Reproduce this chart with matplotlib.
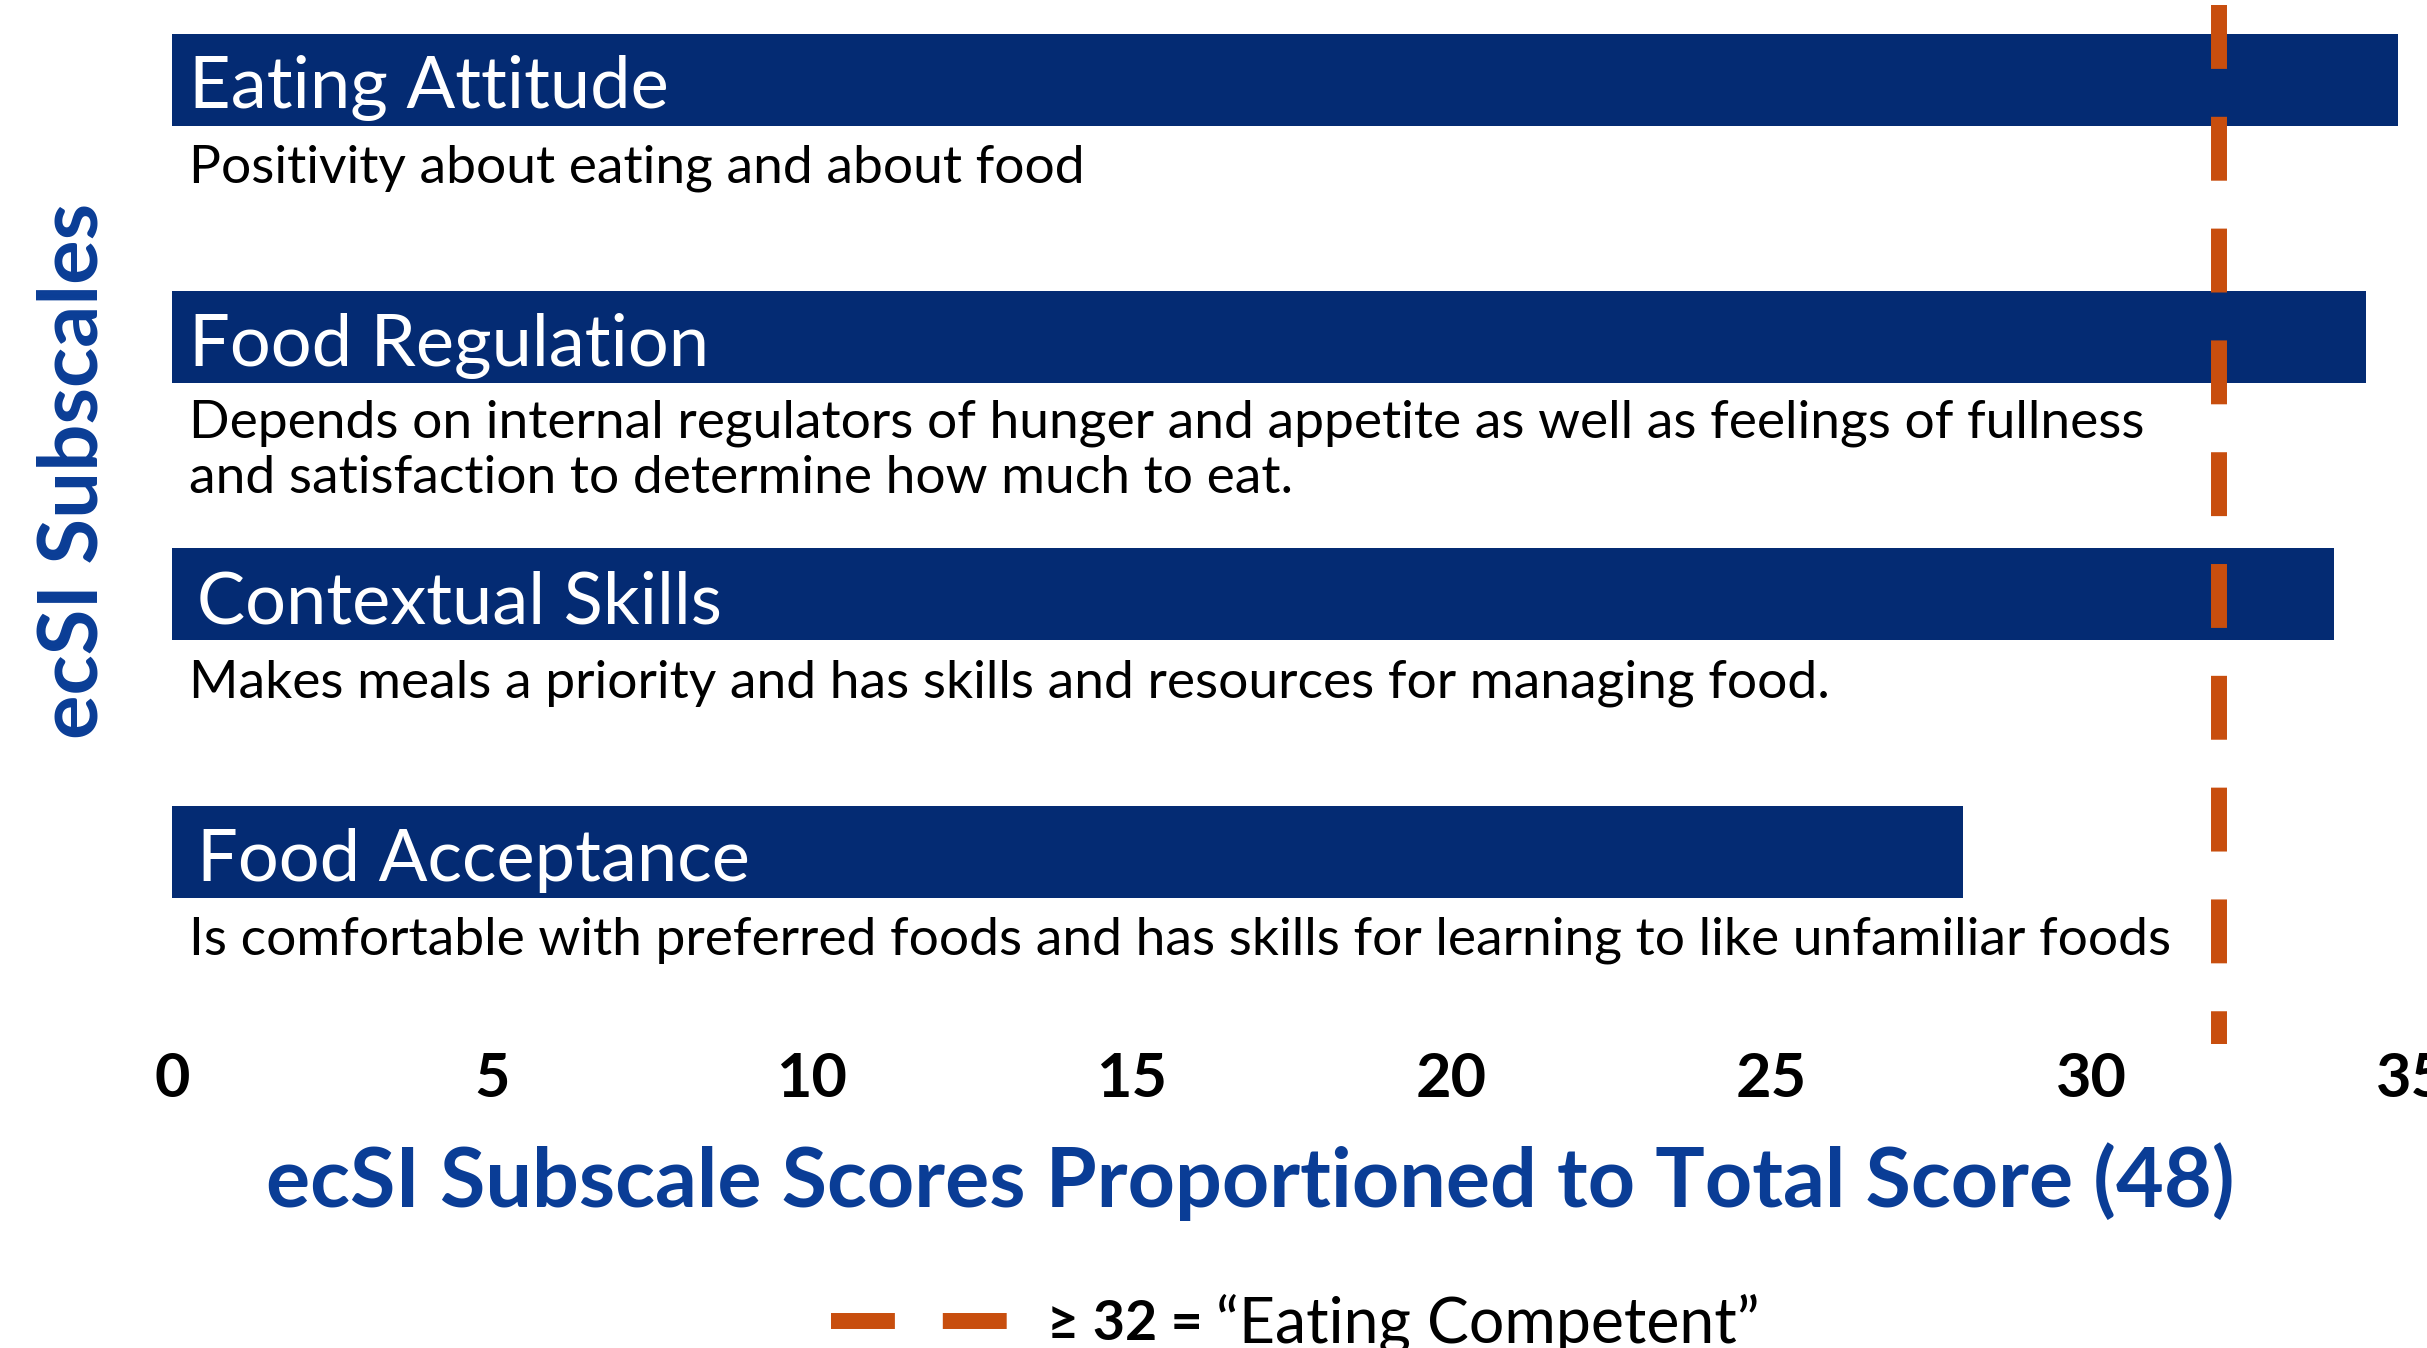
import matplotlib
matplotlib.use("Agg")
import matplotlib.pyplot as plt
from matplotlib.lines import Line2D

plt.rcParams['font.family'] = ['Lato', 'DejaVu Sans']

# data
subscales = ["Eating Attitude", "Food Regulation", "Contextual Skills", "Food Acceptance"]
scores = [34.8, 34.3, 33.8, 28.0]
descriptions = [
    "Positivity about eating and about food",
    "Depends on internal regulators of hunger and appetite as well as feelings of fullness\n"
    "and satisfaction to determine how much to eat.",
    "Makes meals a priority and has skills and resources for managing food.",
    "Is comfortable with preferred foods and has skills for learning to like unfamiliar foods",
]
threshold = 32
xticks = [0, 5, 10, 15, 20, 25, 30, 35]
legend_label = "\u2265 32 ="
legend_rest = "\u201cEating Competent\u201d"

BAR = '#042B73'
BLUE = '#0A3D96'
ORANGE = '#C84E0E'

W, H = 2427, 1348
fig = plt.figure(figsize=(W / 100, H / 100), dpi=100)
# axes placed in pixel terms of the reference
ax = fig.add_axes([172 / W, (H - 1044) / H, (2411 - 172) / W, (1044 - 5) / H])

ypos = list(range(len(subscales)))
ax.barh(ypos, scores, height=0.358, color=BAR, zorder=2)

label_dx = [0.27, 0.27, 0.39, 0.39]
line_step = 0.206  # one text line, in bar-slot units
for y, name, desc, dx in zip(ypos, subscales, descriptions, label_dx):
    ax.text(dx, y + 0.112, name, color='white', fontsize=52,
            va='baseline', ha='left', zorder=3)
    # baseline alignment goes to the last line of a multi-line text
    nextra = desc.count('\n')
    ax.text(0.27, y + 0.40 + nextra * line_step, desc, color='black', fontsize=38.4,
            va='baseline', ha='left', linespacing=1.2, zorder=3)

# threshold line, dashes start from the top
ax.plot([threshold, threshold], [1, 0], transform=ax.get_xaxis_transform(),
        color=ORANGE, lw=11.5, ls=(0, (4, 3)), dash_capstyle='butt',
        solid_capstyle='butt', clip_on=False, zorder=4)

ax.set_xlim(0, 35)
ax.set_ylim(3.747, -0.29)
ax.set_xticks(xticks)
ax.set_yticks([])
ax.tick_params(axis='x', length=0, pad=5, labelsize=44)
for lbl in ax.get_xticklabels():
    lbl.set_fontweight('bold')
for s in ax.spines.values():
    s.set_visible(False)

ax.set_xlabel("ecSI Subscale Scores Proportioned to Total Score (48)",
              fontsize=59.5, fontweight='bold', color=BLUE, va='center')
ax.xaxis.set_label_coords(0.4815, -0.132)
ax.set_ylabel("ecSI Subscales", fontsize=60, fontweight='bold', color=BLUE, va='center')
ax.yaxis.set_label_coords(-0.0438, 0.552)

handle = Line2D([], [], color=ORANGE, lw=11.5, ls=(0, (4, 3)),
                dash_capstyle='butt', solid_capstyle='butt')
leg = fig.legend([handle], [legend_label], loc='center left',
                 bbox_to_anchor=(831 / W, 24 / H), frameon=False,
                 borderpad=0, borderaxespad=0, handlelength=3.2,
                 handletextpad=0.68, prop={'size': 40, 'weight': 'bold'})
fig.canvas.draw()  # so the legend text has its place before the annotation uses it
ax.annotate(legend_rest, xy=(1, 0.5), xycoords=leg.get_texts()[0],
            xytext=(14, 0), textcoords='offset pixels', va='center', ha='left',
            fontsize=45, color='black', annotation_clip=False)

fig.savefig('out.png', dpi=100)
